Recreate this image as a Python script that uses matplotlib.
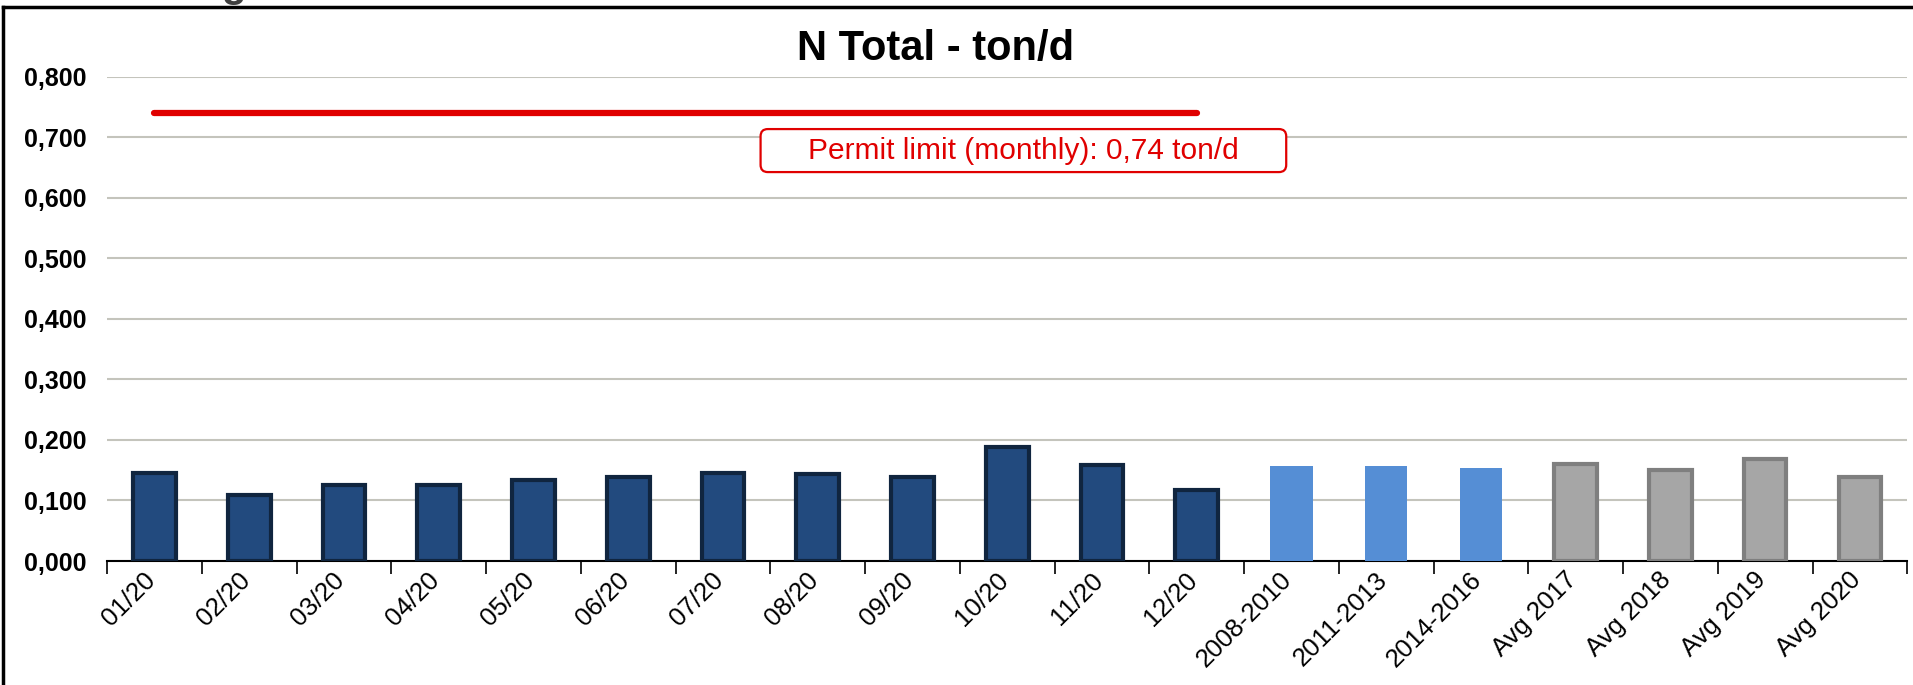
import numpy as np
import matplotlib.pyplot as plt
from matplotlib.lines import Line2D
from matplotlib.patches import FancyBboxPatch
from matplotlib.transforms import ScaledTranslation

plt.rcParams['font.family'] = ['Liberation Sans', 'DejaVu Sans']

categories = ['01/20', '02/20', '03/20', '04/20', '05/20', '06/20', '07/20', '08/20',
              '09/20', '10/20', '11/20', '12/20', '2008-2010', '2011-2013', '2014-2016',
              'Avg 2017', 'Avg 2018', 'Avg 2019', 'Avg 2020']
monthly = [0.146, 0.109, 0.125, 0.125, 0.134, 0.139, 0.145, 0.143, 0.139, 0.189, 0.158, 0.117]
periods = [0.157, 0.157, 0.153]
yearly = [0.160, 0.150, 0.168, 0.139]
permit_limit = 0.74
yticks = [0.0, 0.1, 0.2, 0.3, 0.4, 0.5, 0.6, 0.7, 0.8]

fig = plt.figure(figsize=(19.13, 6.85), dpi=100)
ax = fig.add_axes([0.056, 0.181, 0.941, 0.707])

x = np.arange(len(categories))
n1, n2 = len(monthly), len(periods)
w = 0.45
ax.bar(x[:n1], monthly, width=w, color='#224a7e', edgecolor='#10253f', linewidth=3, zorder=3)
ax.bar(x[n1:n1 + n2], periods, width=w, color='#558ed5', edgecolor='none', zorder=3)
ax.bar(x[n1 + n2:], yearly, width=w, color='#a6a6a6', edgecolor='#7f7f7f', linewidth=3, zorder=3)

# permit limit line + label box
ax.plot([0, n1 - 1], [permit_limit, permit_limit], color='#e00000', lw=4.5,
        solid_capstyle='round', zorder=4)
box = FancyBboxPatch((0.509 - 0.146, 0.8475 - 0.0444), 0.292, 0.0888,
                     boxstyle='round,pad=0,rounding_size=0.004', transform=ax.transAxes,
                     fc='white', ec='#e00000', lw=1.6, zorder=5, mutation_aspect=3.72)
ax.add_patch(box)
ax.text(0.509, 0.8475, 'Permit limit (monthly): 0,74 ton/d', color='#e00000', fontsize=21.5,
        ha='center', va='center', transform=ax.transAxes, zorder=6)

ax.set_xlim(-0.5, len(categories) - 0.5)
ax.set_ylim(0, 0.8)
ax.set_yticks(yticks)
ax.set_yticklabels([f'{v:.3f}'.replace('.', ',') for v in yticks], fontsize=18, fontweight='bold')
ax.tick_params(axis='y', length=0, pad=15)
ax.yaxis.grid(True, color='#c4c4bc', linewidth=1.5, zorder=0)

ax.set_xticks(np.arange(len(categories) + 1) - 0.5)
ax.set_xticklabels([])
ax.set_xticks(x, minor=True)
ax.set_xticklabels(categories, minor=True, rotation=45, ha='right', va='center',
                   rotation_mode='anchor', fontsize=18.5)
ax.tick_params(axis='x', which='major', length=9, width=1.2, color='black')
ax.tick_params(axis='x', which='minor', length=0, pad=11)
shift = ScaledTranslation(-0.03, 0, fig.dpi_scale_trans)
for lbl in ax.get_xticklabels(minor=True):
    lbl.set_transform(lbl.get_transform() + shift)

for s in ['left', 'right', 'top']:
    ax.spines[s].set_visible(False)
ax.spines['bottom'].set_linewidth(1.5)

fig.text(0.4889, 0.929, 'N Total - ton/d', fontsize=30, fontweight='bold', ha='center', va='center')

# cropped frame of the original slide
fig.add_artist(Line2D([0.0015, 0.0015], [0, 0.99], color='black', lw=2.5, transform=fig.transFigure))
fig.add_artist(Line2D([0.0015, 1], [0.99, 0.99], color='black', lw=2.5, transform=fig.transFigure))
fig.text(0.122, 1.004, 'g', fontsize=29, fontweight='bold', color='#404040', ha='center', va='baseline')

fig.savefig('out.png')
